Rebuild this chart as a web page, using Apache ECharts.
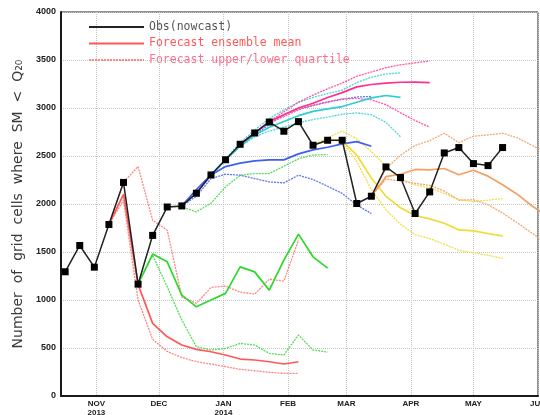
<!DOCTYPE html>
<html>
<head>
<meta charset="utf-8">
<script src="https://cdn.jsdelivr.net/npm/echarts@6/dist/echarts.min.js"></script>
<style>
  html, body { margin: 0; padding: 0; background: #fff; }
  #chart { width: 540px; height: 415px; }
</style>
</head>
<body>
<div id="chart"></div>
<script>
// Weekly analysis dates (nowcast and forecast lead weeks share this calendar)
const weekDates = [
  '2013-10-17', '2013-10-24', '2013-10-31', '2013-11-07', '2013-11-14', '2013-11-21',
  '2013-11-28', '2013-12-05', '2013-12-12', '2013-12-19', '2013-12-26', '2014-01-02',
  '2014-01-09', '2014-01-16', '2014-01-23', '2014-01-30', '2014-02-06', '2014-02-13',
  '2014-02-20', '2014-02-27', '2014-03-06', '2014-03-13', '2014-03-20', '2014-03-27',
  '2014-04-03', '2014-04-10', '2014-04-17', '2014-04-24', '2014-05-01', '2014-05-08',
  '2014-05-15', '2014-05-22', '2014-05-29', '2014-06-05'
];

// Observed (nowcast) number of grid cells below the 20th percentile
const obsValues = [
  1294, 1568, 1342, 1787, 2225, 1165, 1673, 1969, 1980, 2112, 2303, 2461,
  2622, 2740, 2854, 2758, 2858, 2612, 2664, 2664, 2005, 2081, 2386, 2276,
  1901, 2126, 2532, 2588, 2421, 2400, 2588
];

// Month ticks on the date axis
const monthTicks = ['2013-11-01', '2013-12-01', '2014-01-01', '2014-02-01',
                    '2014-03-01', '2014-04-01', '2014-05-01', '2014-06-01'];
const monthLabels = ['NOV\n2013', 'DEC', 'JAN\n2014', 'FEB', 'MAR', 'APR', 'MAY', 'JUN'];

// Forecasts: index of the first week in weekDates, then upper quartile / mean / lower quartile
const redStart = 3;
const redUpper = [1787, 2225, 2390, 1830, 1727, 1030, 965, 1131, 1145, 1082, 1061, 1217, 1197, 1623];
const redMean  = [1787, 2100, 1160, 757, 617, 531, 486, 461, 427, 385, 375, 357, 333, 357];
const redLower = [1787, 2040, 1000, 590, 465, 400, 357, 333, 305, 278, 263, 247, 236, 236];

const greenStart = 5;
const greenUpper = [1165, 1673, 1969, 1970, 1918, 2008, 2178, 2300, 2317, 2317, 2393, 2470, 2510, 2515];
const greenMean  = [1165, 1478, 1398, 1051, 929, 999, 1069, 1345, 1293, 1103, 1415, 1686, 1450, 1332];
const greenLower = [1165, 1467, 1137, 791, 513, 479, 496, 548, 531, 444, 427, 635, 479, 458];

const blueStart = 8;
const blueUpper = [1980, 2112, 2303, 2461, 2600, 2720, 2830, 2930, 2990, 3025, 3060, 3090, 3115, 3120];
const blueMean  = [1980, 2150, 2303, 2390, 2425, 2449, 2460, 2460, 2522, 2564, 2591, 2626, 2650, 2602];
const blueLower = [1980, 2080, 2265, 2310, 2300, 2265, 2230, 2220, 2300, 2255, 2185, 2110, 1990, 1900];

const cyanStart = 10;
const cyanUpper = [2303, 2470, 2640, 2770, 2890, 2980, 3060, 3110, 3150, 3185, 3265, 3320, 3355, 3365];
const cyanMean  = [2303, 2461, 2610, 2720, 2800, 2860, 2920, 2965, 2990, 3015, 3060, 3105, 3130, 3110];
const cyanLower = [2303, 2461, 2600, 2700, 2760, 2800, 2845, 2880, 2905, 2935, 2950, 2930, 2850, 2700];

const magentaStart = 12;
const magentaUpper = [2622, 2740, 2860, 2960, 3060, 3135, 3200, 3260, 3330, 3375, 3420, 3450, 3470, 3490];
const magentaMean  = [2622, 2740, 2860, 2930, 3000, 3050, 3110, 3160, 3220, 3245, 3260, 3268, 3270, 3265];
const magentaLower = [2622, 2740, 2850, 2910, 2980, 3030, 3065, 3095, 3100, 3085, 3035, 2950, 2870, 2800];

const yellowStart = 17;
const yellowUpper = [2612, 2690, 2760, 2680, 2545, 2395, 2260, 2200, 2170, 2110, 2045, 2025, 2040, 2057];
const yellowMean  = [2612, 2664, 2660, 2510, 2270, 2080, 1960, 1880, 1845, 1800, 1730, 1720, 1693, 1665];
const yellowLower = [2612, 2664, 2660, 2440, 2150, 1940, 1790, 1680, 1640, 1580, 1520, 1490, 1467, 1433];

const orangeStart = 21;
const orangeUpper = [2081, 2370, 2508, 2610, 2660, 2737, 2640, 2706, 2720, 2737, 2690, 2612, 2530];
const orangeMean  = [2081, 2285, 2310, 2360, 2355, 2370, 2305, 2352, 2290, 2200, 2102, 1982, 1880];
const orangeLower = [2081, 2260, 2240, 2215, 2195, 2135, 2040, 2045, 1992, 1906, 1805, 1698, 1592];

// ---------------------------------------------------------------------------
function toTime(s) {
  const p = s.split('-').map(Number);
  return new Date(p[0], p[1] - 1, p[2]).getTime();
}
const weekTimes = weekDates.map(toTime);
const tickTimes = monthTicks.map(toTime);
const labelByTime = {};
tickTimes.forEach((t, i) => { labelByTime[t] = monthLabels[i]; });

function pairs(start, values) {
  return values.map((v, k) => [weekTimes[start + k], v]);
}

const groups = [
  { start: redStart,     upper: redUpper,     mean: redMean,     lower: redLower,     color: '#ff5858', light: '#ff8585' },
  { start: greenStart,   upper: greenUpper,   mean: greenMean,   lower: greenLower,   color: '#2bd92b', light: '#55dd55' },
  { start: blueStart,    upper: blueUpper,    mean: blueMean,    lower: blueLower,    color: '#3f5ff0', light: '#6078f0' },
  { start: cyanStart,    upper: cyanUpper,    mean: cyanMean,    lower: cyanLower,    color: '#2ccfd2', light: '#4fd6d8' },
  { start: magentaStart, upper: magentaUpper, mean: magentaMean, lower: magentaLower, color: '#ff2f8f', light: '#ff55a2' },
  { start: yellowStart,  upper: yellowUpper,  mean: yellowMean,  lower: yellowLower,  color: '#eedc34', light: '#efdf48' },
  { start: orangeStart,  upper: orangeUpper,  mean: orangeMean,  lower: orangeLower,  color: '#f4a062', light: '#f4a870' }
];

const series = [];
groups.forEach(g => {
  [g.upper, g.lower].forEach(vals => {
    series.push({
      name: 'Forecast upper/lower quartile',
      type: 'line',
      data: pairs(g.start, vals),
      symbol: 'none',
      lineStyle: { color: g.light, width: 1.3, type: [2, 1] },
      itemStyle: { color: g.light },
      z: 2
    });
  });
  series.push({
    name: 'Forecast ensemble mean',
    type: 'line',
    data: pairs(g.start, g.mean),
    symbol: 'none',
    lineStyle: { color: g.color, width: 1.7 },
    itemStyle: { color: g.color },
    z: 3
  });
});

series.push({
  name: 'Obs(nowcast)',
  type: 'line',
  data: obsValues.map((v, i) => [weekTimes[i], v]),
  symbol: 'rect',
  symbolSize: 7,
  lineStyle: { color: '#222', width: 1.5 },
  itemStyle: { color: '#000' },
  z: 10
});

const chart = echarts.init(document.getElementById('chart'), null, { renderer: 'canvas' });
chart.setOption({
  animation: false,
  backgroundColor: '#fff',
  grid: {
    left: 61, right: 2, top: 12, bottom: 19,
    show: true, borderColor: '#222', borderWidth: 1,
    outerBoundsMode: 'none'
  },
  legend: {
    orient: 'vertical',
    left: 88,
    top: 21,
    padding: 0,
    itemWidth: 55,
    itemHeight: 14,
    itemGap: 4.5,
    selectedMode: false,
    itemStyle: { opacity: 0 },
    textStyle: { fontFamily: 'DejaVu Sans Mono', fontSize: 11.5 },
    data: [
      { name: 'Obs(nowcast)', textStyle: { color: '#555' } },
      { name: 'Forecast ensemble mean', textStyle: { color: '#ff5a5a' } },
      { name: 'Forecast upper/lower quartile', textStyle: { color: '#ff6f8a' } }
    ]
  },
  xAxis: {
    type: 'value',
    min: toTime('2013-10-15'),
    max: toTime('2014-06-01'),
    axisLine: { show: true, lineStyle: { color: '#1a1a1a', width: 2 } },
    axisTick: { show: false, customValues: tickTimes },
    axisLabel: {
      customValues: tickTimes,
      formatter: v => labelByTime[v] || '',
      fontFamily: 'Liberation Sans',
      fontWeight: 'bold',
      fontSize: 8,
      lineHeight: 8.5,
      color: '#222',
      margin: 4,
      showMinLabel: true,
      showMaxLabel: true
    },
    splitLine: { show: true, lineStyle: { type: 'dotted', color: '#c4c4c4', width: 1 } }
  },
  yAxis: {
    type: 'value',
    min: 0,
    max: 4000,
    interval: 500,
    name: 'Number  of  grid  cells  where  SM  <  Q\u2082\u2080',
    nameLocation: 'middle',
    nameRotate: 90,
    nameGap: 32,
    nameTextStyle: { fontFamily: 'DejaVu Sans', fontSize: 14, color: '#3a3a3a' },
    axisLine: { show: true, lineStyle: { color: '#1a1a1a', width: 2 } },
    axisTick: { show: false },
    axisLabel: {
      formatter: v => String(v),
      fontFamily: 'Liberation Sans',
      fontWeight: 'bold',
      fontSize: 9,
      color: '#222',
      margin: 5
    },
    splitLine: { show: true, lineStyle: { type: 'dotted', color: '#c4c4c4', width: 1 } }
  },
  series: series
});
</script>
</body>
</html>
